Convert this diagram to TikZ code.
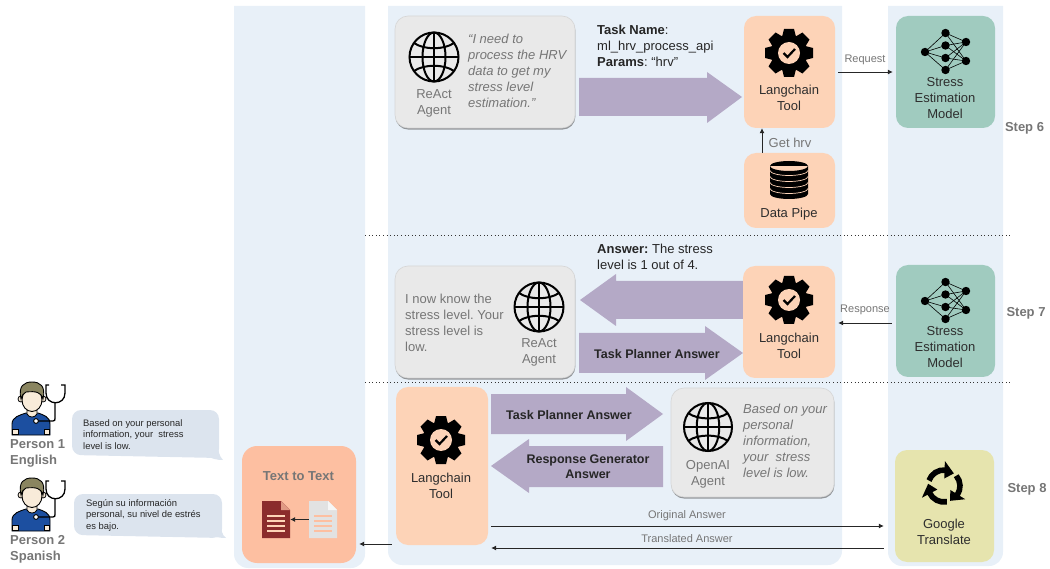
\documentclass[tikz,border=0pt]{standalone}
\usepackage{fontspec}
\setmainfont{Liberation Sans}
\usetikzlibrary{arrows.meta,shadows}
\definecolor{panelc}{HTML}{E8F0F8}
\definecolor{peach}{HTML}{FDD3B7}
\definecolor{greenbox}{HTML}{A0CBBF}
\definecolor{yellowbox}{HTML}{E6E4AE}
\definecolor{salmon}{HTML}{FDBFA1}
\definecolor{purplec}{HTML}{B4A9C6}
\definecolor{agentc}{HTML}{E9E9E9}
\definecolor{graytxt}{HTML}{767676}
\definecolor{bubblec}{HTML}{DCE4EE}
\definecolor{docred}{HTML}{8B2C2C}
\definecolor{docgray}{HTML}{E2E2E2}
\definecolor{shirt}{HTML}{1C4FA0}
\definecolor{skin}{HTML}{F8EBD9}
\definecolor{hair}{HTML}{8A8560}
\newcommand{\fs}[1]{\fontsize{#1}{16}\selectfont}
\frenchspacing
\tikzset{
  panel/.style={fill=panelc},
  rbox/.style={rounded corners=12pt,inner sep=0pt,draw=none},
  toolbox/.style={rbox,fill=peach},
  modelbox/.style={rbox,fill=greenbox},
  agentbox/.style={rbox,rounded corners=13pt,fill=agentc,draw=black!16,line width=.6pt,
    drop shadow={shadow xshift=.4pt,shadow yshift=-1.6pt,opacity=.55,fill=black!70}},
  lbl/.style={font=\fs{13},text=black!82,align=center,inner sep=0pt,yshift=-1pt},
  glbl/.style={font=\fs{13},text=graytxt,align=center,inner sep=0pt,yshift=-1pt},
  quote/.style={font=\fs{13}\itshape,text=graytxt,align=left,anchor=west,inner sep=0pt,yshift=-1pt},
  plain/.style={font=\fs{13},text=graytxt,align=left,anchor=west,inner sep=0pt,yshift=-1pt},
  blk/.style={font=\fs{13},text=black!85,align=left,anchor=west,inner sep=0pt,yshift=-1pt},
  clbl/.style={font=\fontsize{11}{12}\selectfont,text=graytxt,inner sep=0pt,yshift=-1pt},
  steplbl/.style={font=\bfseries\fontsize{13}{15}\selectfont,text=graytxt,inner sep=0pt,yshift=-1pt},
  conn/.style={-{Latex[length=5pt,width=5pt]},line width=.8pt,black!85},
  sep/.style={line width=1pt,dash pattern=on 1pt off 2.6pt,black!80},
  blockfill/.style={fill=purplec},
  blocktxt/.style={font=\bfseries\fontsize{12.5}{15}\selectfont,text=black!85,align=center,inner sep=0pt},
  bub/.style={font=\fontsize{9.4}{11.6}\selectfont,text=black!85,align=left,anchor=west,inner sep=0pt,yshift=-1pt},
  persontxt/.style={font=\bfseries\fontsize{13}{16}\selectfont,text=graytxt,align=left,anchor=west,inner sep=0pt,yshift=-1pt},
  globeicon/.pic={
    \begin{scope}[line width=2pt,black]
      \draw (0,0) circle (24.5);
      \draw (0,0) ellipse (11.5 and 24.5);
      \draw (-24.5,0) -- (24.5,0);
      \draw (0,-24.5) -- (0,24.5);
      \draw (-20,-14) .. controls (-10,-7) and (10,-7) .. (20,-14);
      \draw (-20,14) .. controls (-10,7) and (10,7) .. (20,14);
    \end{scope}
  },
  gearicon/.pic={
    \fill[black] (0,0) circle (18.5);
    \foreach \a in {0,45,...,315}
      \fill[black,rotate=\a] (-7,-16) -- (-5,-24) -- (5,-24) -- (7,-16) -- cycle;
    \fill[peach] (0,0) circle (11);
    \draw[black,line width=2.2pt] (-5.5,0) -- (-1.5,4) -- (6,-4);
  },
  neticon/.pic={
    \foreach \m in {-19,-6.5,6,18}{
      \draw[black,line width=.6pt] (-20.5,0) -- (0,\m);
      \foreach \r in {-10,9} \draw[black,line width=.6pt] (0,\m) -- (20.5,\r);
    }
    \fill[black] (-20.5,0) circle (4.2);
    \foreach \m in {-19,-6.5,6,18} \fill[black] (0,\m) circle (4.2);
    \foreach \r in {-10,9} \fill[black] (20.5,\r) circle (4.2);
  },
  dbicon/.pic={
    \fill[black] (-19,-14) arc[start angle=180,end angle=360,x radius=19,y radius=5]
      arc[start angle=0,end angle=180,x radius=19,y radius=5]
      -- (-19,14) arc[start angle=180,end angle=0,x radius=19,y radius=5]
      -- (19,-14) -- cycle;
    \foreach \s in {-9.5,-3.5,2.5,8.5}
      \draw[peach,line width=.7pt] (-19,\s) arc[start angle=180,end angle=0,x radius=19,y radius=5];
  },
  cycleicon/.pic={
    \foreach \a in {0,120,240}{
      \draw[black,line width=5.6pt] (\a-160:16) arc[start angle=\a-160,end angle=\a-85,radius=16];
      \fill[black] (\a-88:7.5) -- (\a-88:25) -- (\a-52:16) -- cycle;
    }
  },
  personicon/.pic={
    % torso
    \draw[fill=shirt,draw=black,line width=.9pt] (12,435) -- (12,424) .. controls (12,417) and (20,415) .. (26,413)
       -- (38,413) .. controls (44,415) and (50,417) .. (50,424) -- (50,435) -- cycle;
    \draw[fill=skin,draw=black,line width=.8pt] (12.5,429) rectangle (18,434.5);
    \draw[fill=skin,draw=black,line width=.8pt] (44,429) rectangle (49.5,434.5);
    % neck
    \draw[fill=skin,draw=black,line width=.8pt] (27,406) -- (27,414) .. controls (29,418) and (35,418) .. (37,414) -- (37,406) -- cycle;
    % ears and head
    \draw[fill=skin,draw=black,line width=.8pt] (21,399) circle (3);
    \draw[fill=skin,draw=black,line width=.8pt] (43,399) circle (3);
    \draw[fill=skin,draw=black,line width=.9pt] (32,400) ellipse (10 and 11.5);
    % hair
    \draw[fill=hair,draw=black,line width=.9pt] (21,399) .. controls (18,386) and (24,382) .. (32,382)
       .. controls (40,382) and (46,386) .. (43,399) .. controls (41,392) and (36,391) .. (26,392)
       .. controls (23,393) and (22,396) .. (21,399) -- cycle;
    % stethoscope
    \draw[black,line width=1.3pt] (38,421) -- (53,421) .. controls (55,421) and (55,420) .. (55,418) -- (55,403);
    \draw[black,line width=1.3pt] (49,385) -- (46,385) -- (46,393)
       .. controls (46,406) and (65,406) .. (65,393) -- (65,385) -- (61,385);
    \draw[fill=white,draw=black,line width=.9pt] (36,421) circle (2.4);
  },
}
\begin{document}
\begin{tikzpicture}[x=1pt,y=-1pt]
\useasboundingbox (0,0) rectangle (1050,569);
% panels
\fill[panel] (234,6) -- (365,6) [rounded corners=14pt] -- (365,568) -- (234,568) [sharp corners] -- cycle;
\fill[panel] (388,6) -- (842,6) [rounded corners=14pt] -- (842,565) -- (388,565) [sharp corners] -- cycle;
\fill[panel] (888,6) -- (1003,6) [rounded corners=14pt] -- (1003,566) -- (888,566) [sharp corners] -- cycle;
% separators
\draw[sep] (365,235.5) -- (1013,235.5);
\draw[sep] (365,382.5) -- (1013,382.5);

% ---------- Step 6
\node[agentbox,minimum width=180pt,minimum height=112pt] (ag1) at (485,72) {};
\pic at (434,57) {globeicon};
\node[glbl] (ag1t) at (434,102) {ReAct\\Agent};
\node[quote] (q1) at (468,70) {“I need to\\process the HRV\\data to get my\\stress level\\estimation.”};
\node[blk] (task) at (597,45) {\textbf{Task Name}:\\ml\_hrv\_process\_api\\\textbf{Params}: “hrv”};
\fill[blockfill] (579,78) -- (707,78) -- (707,72) -- (742,97) -- (707,123) -- (707,116) -- (579,116) -- cycle;
\node[toolbox,minimum width=91pt,minimum height=112pt] (lc1) at (789.5,72) {};
\pic at (789,53) {gearicon};
\node[lbl] (lc1t) at (789,97) {Langchain\\Tool};
\node[toolbox,minimum width=91pt,minimum height=75pt] (dp) at (789.5,190.5) {};
\pic at (789,180) {dbicon};
\node[lbl] (dpt) at (789,213) {Data Pipe};
\draw[conn] ([xshift=-27.5pt]dp.north) -- ([xshift=-27.5pt]lc1.south);
\node[font=\fs{13},text=graytxt,inner sep=0pt,yshift=-1pt] (gh) at (790,142) {Get hrv};
\node[modelbox,minimum width=99pt,minimum height=112pt] (m1) at (945.5,72) {};
\pic at (945.5,52) {neticon};
\node[lbl] (m1t) at (945,97) {Stress\\Estimation\\Model};
\draw[conn] ([xshift=3pt]lc1.east) -- ([xshift=-3pt]m1.west);
\node[clbl] (rq) at (865,59) {Request};
\node[steplbl] (s6) at (1024.5,127) {Step 6};

% ---------- Step 7
\node[agentbox,minimum width=180pt,minimum height=112pt] (ag2) at (485,322) {};
\pic at (539,307) {globeicon};
\node[glbl] (ag2t) at (539,351) {ReAct\\Agent};
\node[plain] (q2) at (405,322) {I now know the\\stress level. Your\\stress level is\\low.};
\node[blk] (ans) at (597,256) {\textbf{Answer:} The stress\\level is 1 out of 4.};
\fill[blockfill] (743,281) -- (616,281) -- (616,274) -- (580,300) -- (616,326) -- (616,319) -- (743,319) -- cycle;
\fill[blockfill] (579,333) -- (705,333) -- (705,326) -- (743,353) -- (705,380) -- (705,373) -- (579,373) -- cycle;
\node[blocktxt] (a3) at (657,354) {Task Planner Answer};
\node[toolbox,minimum width=92pt,minimum height=112pt] (lc2) at (789,322) {};
\pic at (789,300) {gearicon};
\node[lbl] (lc2t) at (789,345) {Langchain\\Tool};
\node[modelbox,minimum width=99pt,minimum height=112pt] (m2) at (945.5,321) {};
\pic at (945.5,301) {neticon};
\node[lbl] (m2t) at (945,346) {Stress\\Estimation\\Model};
\draw[conn] ([xshift=-4pt,yshift=-2pt]m2.west) -- ([xshift=3pt,yshift=-1pt]lc2.east);
\node[clbl] (rs) at (865,309) {Response};
\node[steplbl] (s7) at (1026,312) {Step 7};

% ---------- Step 8
\node[toolbox,minimum width=92pt,minimum height=158pt] (lc3) at (442,466) {};
\pic at (441,440) {gearicon};
\node[lbl] (lc3t) at (441,485) {Langchain\\Tool};
\fill[blockfill] (491,394) -- (626,394) -- (626,387) -- (663,414) -- (626,441) -- (626,434) -- (491,434) -- cycle;
\node[blocktxt] (a4) at (569,415) {Task Planner Answer};
\fill[blockfill] (663,446) -- (529,446) -- (529,439) -- (491,466) -- (529,493) -- (529,487) -- (663,487) -- cycle;
\node[blocktxt] (a5) at (588,467) {Response Generator\\Answer};
\node[agentbox,minimum width=163pt,minimum height=109pt] (ag3) at (752.5,442.5) {};
\pic[scale=.98] at (708,427) {globeicon};
\node[glbl] (ag3t) at (708,473.5) {OpenAI\\Agent};
\node[quote] (q3) at (743,440) {Based on your\\personal\\information,\\your\ \ stress\\level is low.};
\node[rbox,fill=yellowbox,minimum width=99pt,minimum height=112pt] (gt) at (944.5,506) {};
\pic at (944,486) {cycleicon};
\node[lbl] (gtt) at (944,531) {Google\\Translate};
\draw[conn] ([xshift=3pt,yshift=-60pt]lc3.east) -- ([xshift=-11pt,yshift=-20pt]gt.west);
\draw[conn] ([xshift=-11pt,yshift=-42pt]gt.west) -- ([xshift=3pt,yshift=-82pt]lc3.east);
\node[clbl] (oa) at (687,515) {Original Answer};
\node[clbl] (ta) at (687,538) {Translated Answer};
\node[steplbl] (s8) at (1027,488) {Step 8};

% ---------- Text to Text
\node[rbox,rounded corners=15pt,fill=salmon,minimum width=114pt,minimum height=117pt] (ttt) at (299,504.5) {};
\node[font=\bfseries\fontsize{13}{15}\selectfont,text=graytxt,inner sep=0pt] (ttl) at (298.5,476) {Text to Text};
\draw[conn] ([xshift=-4pt,yshift=-78pt]lc3.west) -- ([xshift=3pt,yshift=-39.5pt]ttt.east);
\node[inner sep=0pt,minimum width=28pt,minimum height=37pt] (docd) at (276,519.5) {};
\node[inner sep=0pt,minimum width=28pt,minimum height=37pt] (docl) at (323,519.5) {};
\fill[docred] (262,501) -- (281,501) -- (290,510) -- (290,538) -- (262,538) -- cycle;
\fill[salmon!75!docred] (281,501) -- (290,510) -- (281,510) -- cycle;
\foreach \yy in {516,521,526,531} \draw[peach,line width=1.2pt] (267,\yy) -- (285,\yy);
\fill[docgray] (309,501) -- (328,501) -- (337,510) -- (337,538) -- (309,538) -- cycle;
\fill[white!70!docgray] (328,501) -- (337,510) -- (328,510) -- cycle;
\foreach \yy in {516,521,526,531} \draw[salmon,line width=1.2pt] (314,\yy) -- (332,\yy);
\draw[conn] (docl.west) -- (docd.east);

% ---------- People
\pic at (0,0) {personicon};
\pic at (0,96) {personicon};
\node[persontxt] (p1) at (10,452) {Person 1\\English};
\node[persontxt] (p2) at (10,548) {Person 2\\Spanish};
\fill[bubblec,rounded corners=9pt] (72,410) -- (219,410) -- (219,458) -- (72,455) -- cycle;
\fill[bubblec] (205,455) .. controls (212,459) and (217,460) .. (223,460) .. controls (219,456) and (218,450) .. (218,444) -- cycle;
\node[bub] (b1) at (83,433.5) {Based on your personal\\information, your\ \ stress\\level is low.};
\fill[bubblec,rounded corners=9pt] (74,494) -- (222,494) -- (222,538) -- (74,535) -- cycle;
\fill[bubblec] (208,535) .. controls (215,537) and (220,538) .. (226,538) .. controls (222,535) and (221,530) .. (221,524) -- cycle;
\node[bub] (b2) at (86,514.5) {Según su información\\personal, su nivel de estrés\\es bajo.};
\end{tikzpicture}
\end{document}
